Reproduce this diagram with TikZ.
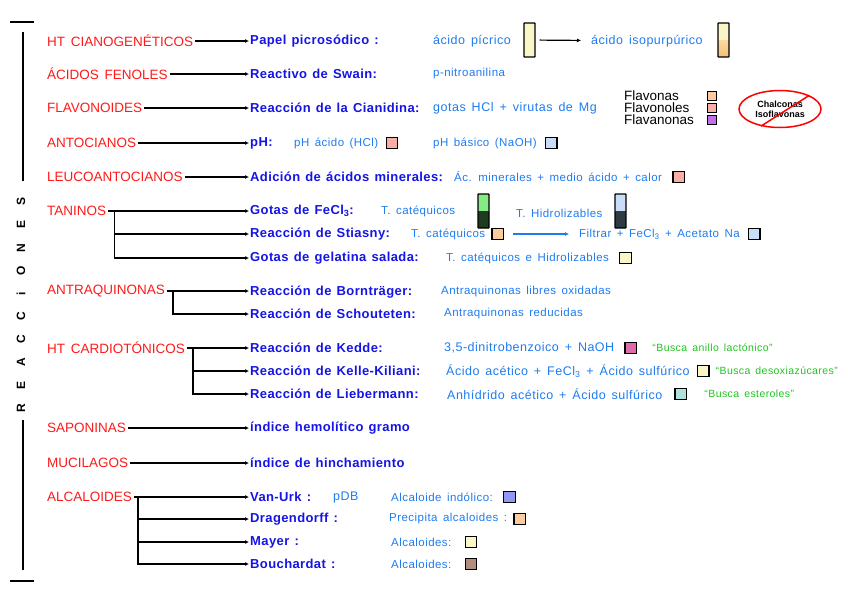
\documentclass[tikz,border=0pt]{standalone}
\usepackage{fontspec}
\setmainfont{Liberation Sans}
\newfontfamily\catfont{Liberation Sans}[WordSpace=1.5]
\newfontfamily\methfont{Liberation Sans}[LetterSpace=3, WordSpace=1.3]
\newfontfamily\detfont{Liberation Sans}[LetterSpace=4, WordSpace=1.5]
\usetikzlibrary{shapes.geometric, positioning, arrows.meta}

\definecolor{catred}{HTML}{FF1A1A}
\definecolor{metblue}{HTML}{1414E6}
\definecolor{detblue}{HTML}{1E7BF0}
\definecolor{quotegreen}{HTML}{22C322}
\definecolor{cpale}{HTML}{FBF6C8}
\definecolor{corange}{HTML}{F5BE78}
\definecolor{cpeach}{HTML}{FCCB9E}
\definecolor{csalmon}{HTML}{F7AFA6}
\definecolor{cpurple}{HTML}{C06EEA}
\definecolor{clblue}{HTML}{C9DDF8}
\definecolor{cmagenta}{HTML}{DD6CAA}
\definecolor{cteal}{HTML}{AEE2DA}
\definecolor{cperi}{HTML}{9298F2}
\definecolor{cbrown}{HTML}{B58D7C}
\definecolor{cgreen}{HTML}{85EB85}
\definecolor{cdkgreen}{HTML}{1F3B20}
\definecolor{cdkgray}{HTML}{2F3A42}

\begin{document}
\begin{tikzpicture}[x=1pt, y=-1pt,
  cat/.style={anchor=west, inner sep=2pt, text=catred, font=\catfont\fontsize{13.5}{15}\selectfont},
  met/.style={anchor=west, inner xsep=1pt, inner ysep=2pt, text=metblue, font=\methfont\bfseries\fontsize{13}{15}\selectfont},
  det/.style={anchor=west, inner sep=1pt, text=detblue, font=\detfont\fontsize{12.5}{14}\selectfont},
  sdet/.style={det, font=\detfont\fontsize{11.5}{13}\selectfont},
  note/.style={anchor=west, inner sep=1pt, text=quotegreen, font=\detfont\fontsize{10.5}{12}\selectfont},
  plain/.style={anchor=west, inner sep=1pt, text=black, font=\catfont\fontsize{13.5}{14}\selectfont},
  arr/.style={line width=1.4pt, -{Latex[length=4pt,width=4pt]}},
  swatch/.style={draw=black, line width=1.3pt, minimum size=11.5pt, inner sep=0pt},
  tube/.style={draw=black, line width=1.3pt, rounded corners=0.6pt, minimum width=11pt, minimum height=34pt, inner sep=0pt},
  bar/.style={line width=1.5pt}
]
\useasboundingbox (0,0) rectangle (848,600);

% ---------- Side bracket: REACCIONES ----------
\draw[bar] (10,22) -- (34,22);
\draw[bar] (23,32) -- (23,181);
\draw[bar] (23,420) -- (23,570);
\draw[bar] (10,581) -- (34,581);
\foreach \ltr [count=\i from 0] in {R,E,A,C,C,i,O,N,E,S}
  \node[rotate=90, inner sep=0pt, font=\bfseries\fontsize{12}{12}\selectfont] (r\i) at (21, 408-22.9*\i) {\ltr};

% ---------- HT cianogeneticos ----------
\node[cat] (cian) at (45,41) {HT CIANOGENÉTICOS};
\node[met] (papel) at (249,41) {Papel picrosódico :};
\draw[arr] (cian) -- (papel);
\node[det] (pic) at (432,41) {ácido pícrico};
\node[tube, fill=cpale] (tb1) at (529.5,40) {};
\node[det] (iso) at (590,41) {ácido isopurpúrico};
\node[tube, fill=cpale, path picture={
  \shade[top color=cpale, bottom color=corange]
    (path picture bounding box.west) rectangle (path picture bounding box.south east);}] (tb2) at (723.5,40) {};
\draw[arr, line width=1.2pt, shorten <=4pt, shorten >=9pt] (tb1) -- (iso);

% ---------- Acidos fenoles ----------
\node[cat] (fen) at (45,74) {ÁCIDOS FENOLES};
\node[met] (swain) at (249,74) {Reactivo de Swain:};
\draw[arr] (fen) -- (swain);
\node[sdet] (nitro) at (432,74) {p-nitroanilina};

% ---------- Flavonoides ----------
\node[cat] (flav) at (45,108) {FLAVONOIDES};
\node[met] (cianid) at (249,108) {Reacción de la Cianidina:};
\draw[arr] (flav) -- (cianid);
\node[det] (gotas) at (432,108) {gotas HCl + virutas de Mg};

\foreach \nm/\lbl/\yy/\col in {fv1/Flavonas/96/cpeach, fv2/Flavonoles/108/csalmon, fv3/Flavanonas/120/cpurple} {
  \node[plain] (\nm) at (623,\yy) {\lbl};
  \node[swatch, fill=\col, minimum size=9.5pt, line width=1pt] (s\nm) at (712,\yy) {};
}

\node[draw=red, ellipse, line width=1.5pt, minimum width=82pt, minimum height=37pt,
      inner sep=0pt, align=center, font=\bfseries\fontsize{9}{10}\selectfont] (chal) at (780,109)
      {Chalconas\\Isoflavonas};
\draw[red, line width=1.5pt] (chal.25) -- (chal.222);

% ---------- Antocianos ----------
\node[cat] (anto) at (45,143) {ANTOCIANOS};
\node[met] (ph) at (249,143) {pH:};
\draw[arr] (anto) -- (ph);
\node[sdet] (phac) at (293,143) {pH ácido (HCl)};
\node[swatch, fill=csalmon, right=6pt of phac] (sphac) {};
\node[sdet] (phba) at (432,143) {pH básico (NaOH)};
\node[swatch, fill=clblue, right=7pt of phba] (sphba) {};

% ---------- Leucoantocianos ----------
\node[cat] (leuco) at (45,177) {LEUCOANTOCIANOS};
\node[met] (adic) at (249,177) {Adición de ácidos minerales:};
\draw[arr] (leuco) -- (adic);
\node[sdet] (acmin) at (453,177) {Ác. minerales + medio ácido + calor};
\node[swatch, fill=csalmon, right=9pt of acmin] (sacmin) {};

% ---------- Taninos ----------
\node[cat] (tan) at (45,211) {TANINOS};
\node[met] (fecl) at (249,211) {Gotas de FeCl\textsubscript{3}:};
\node[met] (stia) at (249,234) {Reacción de Stiasny:};
\node[met] (gel) at (249,258) {Gotas de gelatina salada:};
\coordinate (tanj) at ([xshift=6pt]tan.east);
\draw[arr] (tan) -- (fecl);
\draw[arr] (tanj) |- (stia.west);
\draw[arr] (tanj) |- (gel.west);

\node[sdet] (tc1) at (380,211) {T. catéquicos};
\node[tube, path picture={
  \fill[cgreen] (path picture bounding box.north west) rectangle (path picture bounding box.east);
  \fill[cdkgreen] (path picture bounding box.west) rectangle (path picture bounding box.south east);}] (tb3) at (483.5,211) {};
\node[sdet] (th) at (515,213) {T. Hidrolizables};
\node[tube, path picture={
  \fill[clblue] (path picture bounding box.north west) rectangle (path picture bounding box.east);
  \fill[cdkgray] (path picture bounding box.west) rectangle (path picture bounding box.south east);}] (tb4) at (620.5,211) {};

\node[sdet] (tc2) at (410,234) {T. catéquicos};
\node[swatch, fill=cpeach, right=5pt of tc2] (stc2) {};
\node[sdet] (filt) at (578,234) {Filtrar + FeCl\textsubscript{3} + Acetato Na};
\node[swatch, fill=clblue, right=7pt of filt] (sfilt) {};
\draw[detblue, line width=1.2pt, -{Latex[length=4pt,width=4pt]}, shorten <=9pt, shorten >=9pt] (stc2) -- (filt);

\node[sdet] (tce) at (445,258) {T. catéquicos e Hidrolizables};
\node[swatch, fill=cpale, right=9pt of tce] (stce) {};

% ---------- Antraquinonas ----------
\node[cat] (antra) at (45,291) {ANTRAQUINONAS};
\node[met] (born) at (249,292) {Reacción de Bornträger:};
\node[met] (scho) at (249,314) {Reacción de Schouteten:};
\coordinate (antraj) at ([xshift=6pt]antra.east);
\draw[arr] (antra.east) -- (born.west |- antra.east);
\draw[arr] (antraj) |- (scho.west);
\node[sdet] (libres) at (440,292) {Antraquinonas libres oxidadas};
\node[sdet] (reduc) at (443,314) {Antraquinonas reducidas};

% ---------- HT cardiotonicos ----------
\node[cat] (cardio) at (45,348) {HT CARDIOTÓNICOS};
\node[met] (kedde) at (249,348) {Reacción de Kedde:};
\node[met] (kk) at (249,371) {Reacción de Kelle-Kiliani:};
\node[met] (lieb) at (249,394) {Reacción de Liebermann:};
\coordinate (cardioj) at ([xshift=6pt]cardio.east);
\draw[arr] (cardio) -- (kedde);
\draw[arr] (cardioj) |- (kk.west);
\draw[arr] (cardioj) |- (lieb.west);

\node[det] (dnb) at (443,348) {3,5-dinitrobenzoico + NaOH};
\node[swatch, fill=cmagenta, right=9pt of dnb] (sdnb) {};
\node[note, right=14pt of sdnb] (lacto) {“Busca anillo lactónico”};
\node[det] (acfe) at (445,371) {Ácido acético + FeCl\textsubscript{3} + Ácido sulfúrico};
\node[swatch, fill=cpale, right=6pt of acfe] (sacfe) {};
\node[note, right=5pt of sacfe] (desox) {“Busca desoxiazúcares”};
\node[det] (anhi) at (446,394) {Anhídrido acético + Ácido sulfúrico};
\node[swatch, fill=cteal, right=11pt of anhi] (sanhi) {};
\node[note, right=16pt of sanhi] (ester) {“Busca esteroles”};

% ---------- Saponinas / Mucilagos ----------
\node[cat] (sapo) at (45,428) {SAPONINAS};
\node[met] (hemo) at (249,428) {índice hemolítico gramo};
\draw[arr] (sapo) -- (hemo);
\node[cat] (muci) at (45,463) {MUCILAGOS};
\node[met] (hinch) at (249,463) {índice de hinchamiento};
\draw[arr] (muci) -- (hinch);

% ---------- Alcaloides ----------
\node[cat] (alca) at (45,497) {ALCALOIDES};
\node[met] (vu) at (249,497) {Van-Urk :};
\node[met] (drag) at (249,519) {Dragendorff :};
\node[met] (may) at (249,542) {Mayer :};
\node[met] (bou) at (249,564) {Bouchardat :};
\coordinate (alcaj) at ([xshift=4pt]alca.east);
\draw[arr] (alca) -- (vu);
\foreach \m in {drag, may, bou}
  \draw[arr] (alcaj) |- (\m.west);

\node[det] (pdb) at (332,497) {pDB};
\node[sdet] (indol) at (390,497) {Alcaloide indólico:};
\node[swatch, fill=cperi, right=9pt of indol] (sindol) {};
\node[sdet] (prec) at (388,519) {Precipita alcaloides :};
\node[swatch, fill=cpeach, right=5pt of prec] (sprec) {};
\node[sdet] (alk1) at (390,542) {Alcaloides:};
\node[swatch, fill=cpale, right=12pt of alk1] (salk1) {};
\node[sdet] (alk2) at (390,564) {Alcaloides:};
\node[swatch, fill=cbrown, right=12pt of alk2] (salk2) {};

\end{tikzpicture}
\end{document}
